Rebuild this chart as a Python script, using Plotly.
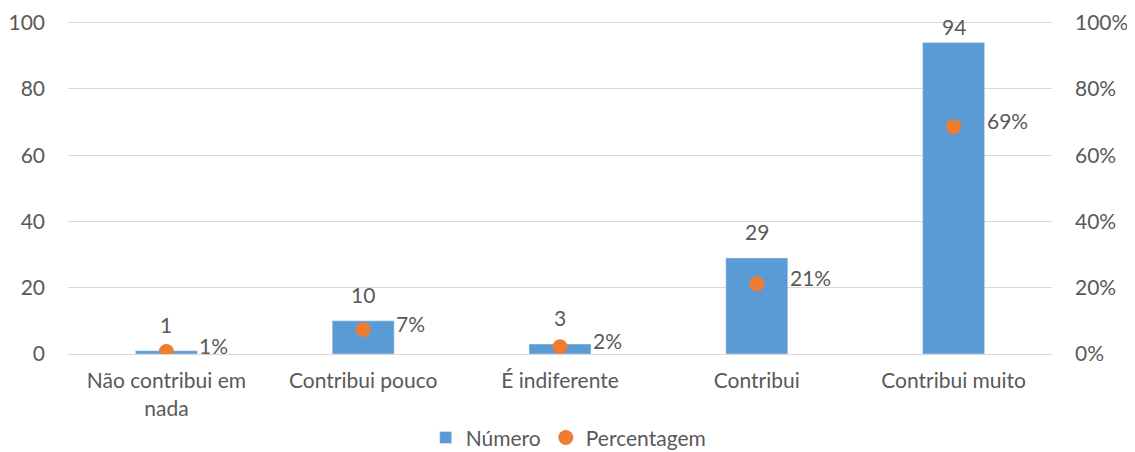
import plotly.graph_objects as go

categories = ["Não contribui em<br>nada", "Contribui pouco", "É indiferente", "Contribui", "Contribui muito"]
counts = [1, 10, 3, 29, 94]
count_labels = ["1", "10", "3", "29", "94"]
pcts = [0.0073, 0.073, 0.0219, 0.2117, 0.6861]
pct_labels = ["1%", "7%", "2%", "21%", "69%"]
left_ticks = [0, 20, 40, 60, 80, 100]
right_ticks = [0, 0.2, 0.4, 0.6, 0.8, 1.0]

FONT = "Lato"
TXT = "#595959"
FS = 21
YMAX = 100.5  # small headroom so the 100 gridline is drawn

fig = go.Figure()
fig.add_trace(go.Bar(x=categories, y=counts, name="Número", marker_color="#5B9BD5",
                     width=0.315, hoverinfo="skip"))
fig.add_trace(go.Scatter(x=categories, y=pcts, name="Percentagem", mode="markers",
                         marker=dict(color="#ED7D31", size=15), yaxis="y2", hoverinfo="skip"))

px_per_unit = 3.31
annotations = []
for c, v, t in zip(categories, counts, count_labels):
    shift = min(12, (100 - v) * px_per_unit - 18)
    annotations.append(dict(x=c, y=v, xref="x", yref="y", text=t, showarrow=False,
                            yanchor="bottom", yshift=shift,
                            font=dict(family=FONT, size=FS, color=TXT)))
for c, p, t in zip(categories, pcts, pct_labels):
    annotations.append(dict(x=c, y=p, xref="x", yref="y2", text=t, showarrow=False,
                            xanchor="left", xshift=31, yshift=6,
                            font=dict(family=FONT, size=FS, color=TXT)))

fig.update_layout(
    width=1135, height=452,
    margin=dict(l=60, r=91, t=13, b=106),
    plot_bgcolor="white", paper_bgcolor="white",
    font=dict(family=FONT, size=FS, color=TXT),
    showlegend=True,
    legend=dict(orientation="h", xref="container", x=0.494, xanchor="center",
                yref="container", y=0.049, yanchor="middle",
                font=dict(family=FONT, size=FS, color=TXT), itemwidth=30),
    xaxis=dict(showgrid=False, showline=True, linecolor="#D9D9D9", linewidth=1, automargin=False,
               ticks="", tickfont=dict(family=FONT, size=FS, color=TXT), ticklabelstandoff=8),
    yaxis=dict(range=[0, YMAX], tickvals=left_ticks, showgrid=True, gridcolor="#D9D9D9",
               zeroline=False, ticks="", ticklabelstandoff=22, automargin=False,
               ticklabeloverflow="allow",
               tickfont=dict(family=FONT, size=FS, color=TXT)),
    yaxis2=dict(range=[0, YMAX / 100], tickvals=right_ticks, tickformat=".0%", overlaying="y",
                side="right", showgrid=False, zeroline=False, ticks="", ticklabelstandoff=22,
                automargin=False, ticklabeloverflow="allow",
                tickfont=dict(family=FONT, size=FS, color=TXT)),
    annotations=annotations,
)

fig.write_html("out.html")
